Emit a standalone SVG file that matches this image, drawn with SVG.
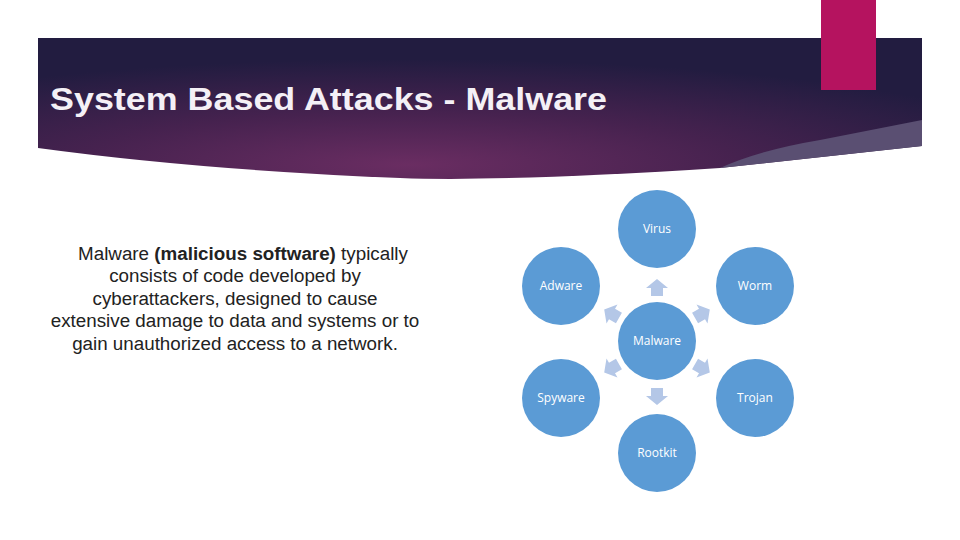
<svg xmlns="http://www.w3.org/2000/svg" width="960" height="540" viewBox="0 0 960 540">
<defs>
<radialGradient id="bg" cx="0.42" cy="0.9" r="0.75">
<stop offset="0" stop-color="#6a2d62"/>
<stop offset="0.5" stop-color="#46224f"/>
<stop offset="1" stop-color="#221c40"/>
</radialGradient>
<polygon id="arr" points="-6,8 6,8 6,0 11,0 0,-9 -11,0 -6,0"/>
</defs>
<style>
.n circle{fill:#5b9bd5}
.n text{font-family:"Open Sans","Liberation Sans",sans-serif;font-size:12px;fill:#fff;text-anchor:middle}
.a use{fill:#b4c7e7}
</style>
<rect width="960" height="540" fill="#fff"/>
<path d="M38,38 H922 V146 L720,168 Q500,182 400,178 Q200,170 38,148 Z" fill="url(#bg)"/>
<path d="M922,120 V146 L720,168 Q760,150 820,140 Z" fill="#5a4f72"/>
<rect x="821" y="0" width="55" height="90" fill="#b5135f"/>
<text x="50" y="110" font-family="Liberation Sans,Arial,sans-serif" font-size="32" font-weight="bold" fill="#f4f0f6" textLength="557" lengthAdjust="spacingAndGlyphs">System Based Attacks - Malware</text>
<g font-family="Liberation Sans,Arial,sans-serif" font-size="18.8" fill="#222" text-anchor="middle">
<text x="243" y="260">Malware <tspan font-weight="bold">(malicious software)</tspan> typically</text>
<text x="235" y="282">consists of code developed by</text>
<text x="235" y="305">cyberattackers, designed to cause</text>
<text x="235" y="327">extensive damage to data and systems or to</text>
<text x="235" y="350">gain unauthorized access to a network.</text>
</g>
<g class="a" id="connectors">
<use href="#arr" transform="translate(657,288)"/>
<use href="#arr" transform="translate(657,396) rotate(180)"/>
<use href="#arr" transform="translate(612,314) rotate(-60)"/>
<use href="#arr" transform="translate(702,314) rotate(60)"/>
<use href="#arr" transform="translate(612,368) rotate(-120)"/>
<use href="#arr" transform="translate(702,368) rotate(120)"/>
</g>
<g class="n" id="malware"><circle cx="657" cy="341" r="39"/><text x="657" y="345">Malware</text></g>
<g class="n" id="virus"><circle cx="657" cy="229" r="39"/><text x="657" y="233">Virus</text></g>
<g class="n" id="adware"><circle cx="561" cy="286" r="39"/><text x="561" y="290">Adware</text></g>
<g class="n" id="worm"><circle cx="755" cy="286" r="39"/><text x="755" y="290">Worm</text></g>
<g class="n" id="spyware"><circle cx="561" cy="398" r="39"/><text x="561" y="402">Spyware</text></g>
<g class="n" id="trojan"><circle cx="755" cy="398" r="39"/><text x="755" y="402">Trojan</text></g>
<g class="n" id="rootkit"><circle cx="657" cy="453" r="39"/><text x="657" y="457">Rootkit</text></g>
</svg>
